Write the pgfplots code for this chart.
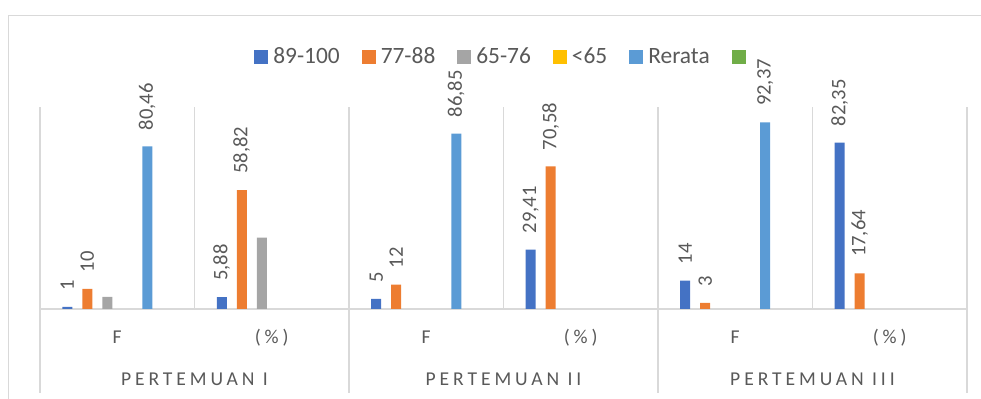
\documentclass[border=0pt]{standalone}
\usepackage{pgfplots}
\pgfplotsset{compat=1.18}
\usepackage{fontspec}
\setmainfont{Carlito}
\newfontfamily\spaced[LetterSpace=20]{Carlito}
\definecolor{cA}{HTML}{4472C4}
\definecolor{cB}{HTML}{ED7D31}
\definecolor{cC}{HTML}{A5A5A5}
\definecolor{cD}{HTML}{FFC000}
\definecolor{cE}{HTML}{5B9BD5}
\definecolor{cF}{HTML}{70AD47}
\definecolor{txt}{HTML}{595959}
\definecolor{gridc}{HTML}{D9D9D9}
\newcommand{\lbl}{\pgfmathprintnumber[assume math mode=true,use comma,fixed,precision=2]{\pgfplotspointmeta}}
\begin{document}
\begin{tikzpicture}
\useasboundingbox (0,0) rectangle (490.5pt,199.5pt);
\draw[gridc, line width=0.5pt] (4pt,-20pt) rectangle (520pt,191.5pt);
\begin{axis}[
  at={(20pt,45pt)}, anchor=south west,
  scale only axis, width=463.5pt, height=101pt,
  xmin=-0.5, xmax=5.5, ymin=0, ymax=100,
  axis x line*=bottom, axis y line=none,
  x axis line style={gridc, line width=0.75pt},
  ytick=\empty,
  xtick={0,1,2,3,4,5}, xticklabels={F,(\%),F,(\%),F,(\%)},
  major tick length=0pt, minor tick length=0pt,
  minor xtick={-0.5,0.5,1.5,2.5,3.5,4.5,5.5},
  xminorgrids, minor grid style={gridc, line width=0.75pt},
  xticklabel style={font=\spaced\fontsize{9.8}{12}\selectfont, text=txt, anchor=base, yshift=-17.5pt, inner sep=0pt},
  ybar=5pt, bar width=5pt,
  clip=false,
  point meta=y,
  every node near coord/.append style={rotate=90, anchor=west, font=\fontsize{10.3}{12}\selectfont, text=txt, inner xsep=8pt},
  legend columns=-1,
  legend image code/.code={\fill[#1] (0pt,-3.5pt) rectangle (7pt,3.5pt);},
  legend style={at={(0.5,1.247)}, anchor=center, draw=none, fill=none,
    font=\fontsize{11.7}{14}\selectfont, text=txt, inner sep=0pt, nodes={inner sep=0pt},
    /tikz/every odd column/.append style={column sep=2.5pt},
    /tikz/every even column/.append style={column sep=11pt}},
]
\addplot[fill=cA, draw=none, nodes near coords=\lbl]
  coordinates {(0,1) (1,5.88) (2,5) (3,29.41) (4,14) (5,82.35)};
\addlegendentry{89-100}
\addplot[fill=cB, draw=none, nodes near coords=\lbl]
  coordinates {(0,10) (1,58.82) (2,12) (3,70.58) (4,3) (5,17.64)};
\addlegendentry{77-88}
\addplot[fill=cC, draw=none]
  coordinates {(0,6) (1,35.29)};
\addlegendentry{65-76}
\addplot[fill=none, draw=none, legend image code/.code={\fill[cD] (0pt,-3.5pt) rectangle (7pt,3.5pt);}]
  coordinates {(0,0) (1,0) (2,0) (3,0) (4,0) (5,0)};
\addlegendentry{<65}
\addplot[fill=cE, draw=none, nodes near coords=\lbl]
  coordinates {(0,80.46) (2,86.85) (4,92.37)};
\addlegendentry{Rerata}
\addplot[fill=none, draw=none, legend image code/.code={\fill[cF] (0pt,-3.5pt) rectangle (7pt,3.5pt);}]
  coordinates {(0,0) (1,0) (2,0) (3,0) (4,0) (5,0)};
\addlegendentry{\mbox{}}
\pgfplotsinvokeforeach{-0.5,1.5,3.5,5.5}{
  \draw[gridc, line width=0.75pt] (axis cs:#1,0) -- ++(0pt,-42pt);
}
\node[anchor=base, yshift=-38.5pt, inner sep=0pt, text=txt, font=\spaced\fontsize{9.8}{12}\selectfont] at (axis cs:0.5,0) {PERTEMUAN I};
\node[anchor=base, yshift=-38.5pt, inner sep=0pt, text=txt, font=\spaced\fontsize{9.8}{12}\selectfont] at (axis cs:2.5,0) {PERTEMUAN II};
\node[anchor=base, yshift=-38.5pt, inner sep=0pt, text=txt, font=\spaced\fontsize{9.8}{12}\selectfont] at (axis cs:4.5,0) {PERTEMUAN III};
\end{axis}
\end{tikzpicture}
\end{document}
